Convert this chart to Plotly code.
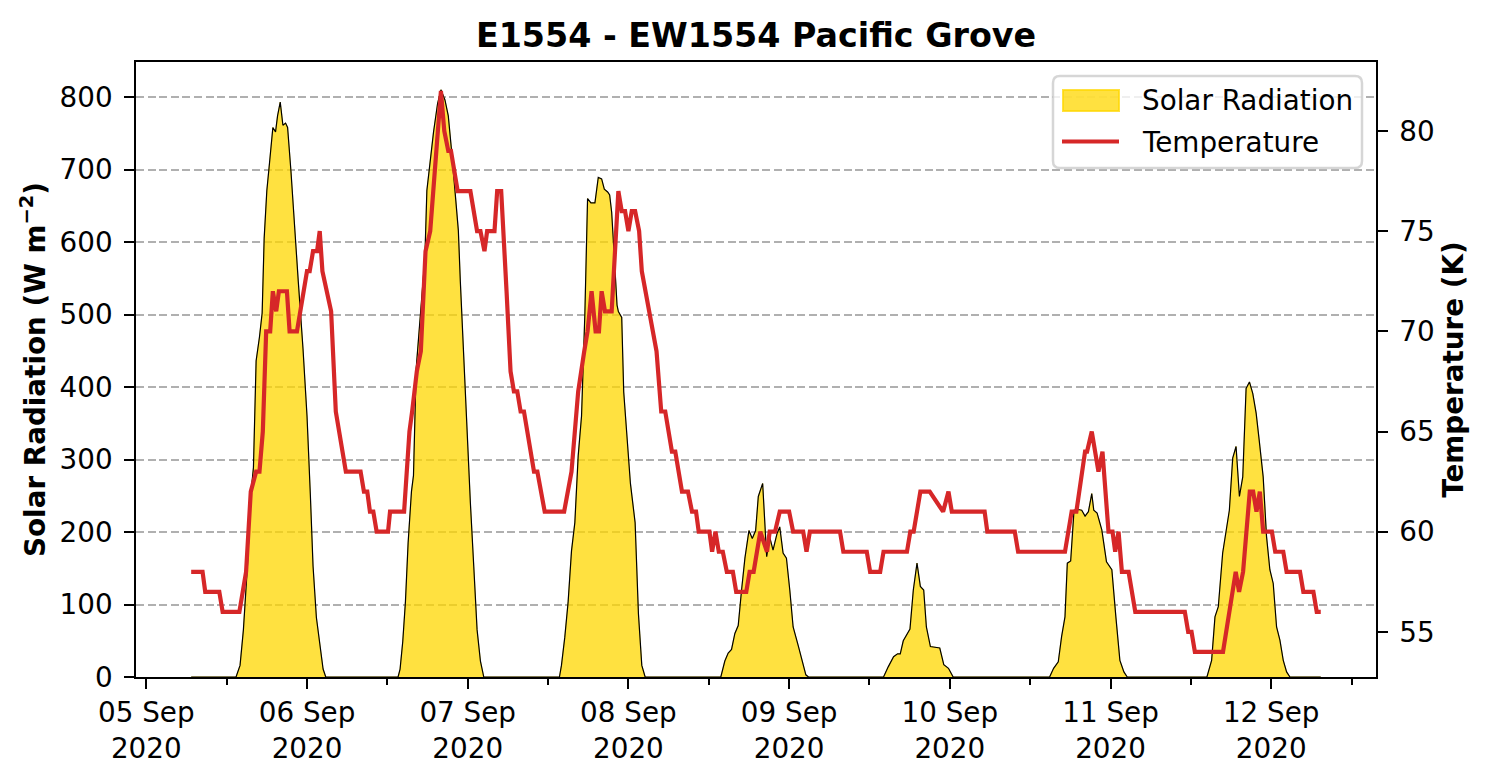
import pandas as pd
import plotly.graph_objects as go

# ---- data (hours since 2020-09-05 00:00 UTC) ----
solar_hours = [6.7,
    13.4, 14.0, 14.5, 15.1, 15.6, 16.0, 16.4, 16.9, 17.3, 17.6, 18.0, 18.4, 18.9, 19.3, 19.6, 20.0, 20.4, 20.8, 21.1,
    21.6, 22.1, 22.7, 23.4, 24.0, 24.5, 24.9, 25.4, 25.9, 26.4, 26.8,
    37.6, 37.9, 38.3, 38.7, 39.1, 39.6, 39.9, 40.3, 40.9, 41.6, 41.9, 42.4, 42.9, 43.5, 44.0, 44.6, 45.1, 45.6, 46.1,
    46.6, 46.9, 47.4, 47.9, 48.4, 48.9, 49.4, 49.9, 50.4,
    61.7, 62.0, 62.5, 63.0, 63.5, 64.0, 64.5, 65.0, 65.5, 65.9, 66.4, 67.0, 67.5, 68.0, 68.4, 68.9, 69.2, 69.5, 69.9,
    70.3, 70.5, 71.0, 71.3, 71.8, 72.3, 73.0, 73.5, 74.0, 74.5,
    85.8, 86.4, 86.9, 87.4, 87.9, 88.4, 88.9, 89.4, 90.0, 90.5, 91.0, 91.4, 92.05, 92.3, 92.65, 93.1, 93.6, 94.2, 94.6,
    95.1, 95.6, 96.1, 96.6, 97.4, 97.9, 98.5, 98.9,
    110.1, 110.8, 111.6, 112.2, 112.6, 113.05, 113.6, 114.05, 114.55, 115.1, 115.6, 116.1, 116.5, 117.1, 118.5, 119.1,
    119.8, 120.5,
    134.9, 135.5, 136.2, 136.7, 137.2, 137.55, 138.05, 138.55, 139.2, 139.7, 140.2, 140.7, 141.2, 141.5, 142.0, 142.7,
    143.4, 144.2, 144.8, 145.4, 146.0, 146.5,
    158.4, 159.1, 159.6, 160.1, 160.75, 161.35, 161.75, 162.25, 162.75, 163.25, 163.75, 164.25, 164.75, 165.25, 165.75,
    166.2, 166.8, 167.3, 167.8, 168.3, 168.8, 169.3, 169.8, 170.3, 170.8,
    175.4]
solar_values = [0,
    0, 16, 65, 153, 251, 289, 436, 469, 502, 605, 671, 709, 758, 752, 774, 793, 761, 764, 758,
    698, 622, 545, 453, 360, 251, 153, 82, 44, 11, 0,
    0, 11, 49, 104, 185, 256, 278, 425, 502, 578, 671, 714, 752, 791, 810, 796, 774, 725, 671,
    616, 545, 436, 338, 240, 153, 65, 22, 0,
    0, 16, 55, 104, 174, 213, 305, 360, 502, 660, 654, 654, 689, 687, 673, 669, 665, 641, 578,
    513, 504, 496, 393, 327, 267, 213, 87, 16, 0,
    0, 22, 33, 38, 60, 71, 120, 164, 202, 191, 202, 249, 267, 221, 166, 193, 175, 198, 207,
    171, 164, 120, 69, 42, 23, 3, 0,
    0, 14, 28, 32, 32, 50, 58, 66, 120, 157, 125, 120, 69, 42, 40, 17,
    12, 0,
    0, 12, 21, 56, 83, 157, 160, 230, 231, 230, 222, 228, 253, 230, 226, 203,
    159, 148, 83, 23, 7, 0,
    0, 23, 83, 97, 171, 207, 230, 302, 318, 249, 276, 398, 407, 391, 364,
    327, 276, 194, 148, 129, 69, 51, 23, 7, 0,
    0]

temp_hours = [6.7, 8.4, 8.8, 10.9, 11.4, 13.9, 14.9, 15.6, 16.4, 16.9, 17.4, 17.9, 18.5, 18.9, 19.4, 19.8, 21.0, 21.4,
    22.5, 23.4, 24.0, 24.4, 24.9, 25.5, 25.9, 26.3, 27.6, 28.3, 29.8, 32.0, 32.5, 33.0, 33.4, 33.9, 34.4, 36.1, 36.4,
    38.5, 39.3, 39.7, 40.4, 41.0, 41.7, 42.4, 43.1, 44.0, 44.5, 45.1, 45.5, 46.5, 48.4, 49.4, 49.9, 50.5, 50.9, 52.0,
    52.4, 53.0, 53.8, 54.4, 54.9, 55.4, 55.9, 56.4, 57.9, 58.4, 59.5, 62.4, 63.5, 64.5, 65.4, 65.9, 66.5, 67.1, 67.6,
    68.0, 68.5, 69.5, 70.5, 71.0, 71.5, 72.0, 72.5, 73.0, 73.6, 74.0, 76.2, 76.9, 77.5, 78.5, 79.0, 80.0, 80.9, 81.5,
    82.1, 82.5, 84.1, 84.5, 85.0, 85.5, 86.1, 86.7, 87.6, 88.1, 89.6, 90.1, 90.7, 91.7, 92.7, 93.1, 93.9, 94.6, 96.0,
    96.6, 98.1, 98.6, 99.1, 103.6, 104.1, 107.6, 108.1, 109.6, 110.1, 113.6, 114.1, 114.6, 115.6, 117.0, 119.0,
    119.8, 120.3, 125.2, 125.6, 129.7, 130.2, 137.2, 138.2, 138.9, 140.2, 140.5, 141.2, 142.2, 142.8, 143.7, 144.3,
    144.7, 145.2, 145.7, 146.7, 147.7, 155.1, 155.6, 156.1, 156.6, 160.8, 162.7, 163.2, 163.8, 164.8, 165.3, 165.8,
    166.3, 166.8, 168.1, 168.6, 169.8, 170.3, 172.3, 172.8, 174.3, 174.8, 175.4]
temp_values = [58, 58, 57, 57, 56, 56, 58, 62, 63, 63, 65, 70, 70, 72, 71, 72, 72, 70,
    70, 72, 73, 73, 74, 74, 75, 73, 71, 66, 63, 63, 62, 62, 61, 61, 60, 60, 61,
    61, 65, 66, 68, 69, 74, 75, 78, 82, 80, 79, 79, 77, 77, 75, 75, 74, 75, 75,
    77, 77, 72, 68, 67, 67, 66, 66, 63, 63, 61, 61, 63, 67, 69, 70, 72, 70, 70,
    72, 71, 71, 77, 76, 76, 75, 76, 76, 75, 73, 69, 66, 66, 64, 64, 62, 62, 61,
    61, 60, 60, 59, 60, 59, 59, 58, 58, 57, 57, 58, 58, 60, 59, 60, 60, 61, 61,
    60, 60, 59, 60, 60, 59, 59, 58, 58, 59, 59, 60, 60, 62, 62, 61,
    62, 61, 61, 60, 60, 59, 59, 61, 61, 64, 64, 65, 63, 64, 60, 60,
    59, 60, 58, 58, 56, 56, 55, 55, 54, 54, 58, 57, 58, 62, 62, 61,
    62, 60, 60, 59, 59, 58, 58, 57, 57, 56, 56]

day_ticks = ["2020-09-05", "2020-09-06", "2020-09-07", "2020-09-08",
             "2020-09-09", "2020-09-10", "2020-09-11", "2020-09-12"]
day_labels = ["05 Sep<br>2020", "06 Sep<br>2020", "07 Sep<br>2020", "08 Sep<br>2020",
              "09 Sep<br>2020", "10 Sep<br>2020", "11 Sep<br>2020", "12 Sep<br>2020"]
legend_labels = ["Solar Radiation", "Temperature"]

t0 = pd.Timestamp("2020-09-05 00:00")
solar_x = [t0 + pd.Timedelta(hours=h) for h in solar_hours]
temp_x = [t0 + pd.Timedelta(hours=h) for h in temp_hours]
noon_ticks = [pd.Timestamp(d) + pd.Timedelta(hours=12) for d in ["2020-09-04"] + day_ticks]

FONT = "DejaVu Sans"
FS = 27.8
SOLAR_FILL = "rgba(255,215,0,0.75)"
TEMP_COLOR = "#d62728"

# plot-area geometry (pixels) used to place the hand-drawn legend
L, R, T, B = 136, 1376, 62, 677
def px(xp):
    return (xp - L) / (R - L)
def py(yp):
    return (B - yp) / (B - T)

fig = go.Figure()
fig.add_trace(go.Scatter(
    x=solar_x, y=solar_values, name=legend_labels[0], mode="lines", showlegend=False,
    fill="tozeroy", fillcolor=SOLAR_FILL, line=dict(color=SOLAR_FILL, width=1)))
fig.add_trace(go.Scatter(
    x=solar_x, y=solar_values, mode="lines", showlegend=False,
    line=dict(color="black", width=1.2)))
fig.add_trace(go.Scatter(
    x=temp_x, y=temp_values, name=legend_labels[1], mode="lines", yaxis="y2", showlegend=False,
    line=dict(color=TEMP_COLOR, width=4.2)))

x_start = t0 + pd.Timedelta(hours=-1.54)
x_end = t0 + pd.Timedelta(hours=183.65)

# legend box (rounded) drawn as a path in paper coordinates
bx0, bx1, by0, by1, rr = 1053, 1362, 76, 168, 7
def P(xp, yp):
    return f"{px(xp):.5f},{py(yp):.5f}"
box_path = (f"M{P(bx0 + rr, by0)} L{P(bx1 - rr, by0)} Q{P(bx1, by0)} {P(bx1, by0 + rr)} "
            f"L{P(bx1, by1 - rr)} Q{P(bx1, by1)} {P(bx1 - rr, by1)} "
            f"L{P(bx0 + rr, by1)} Q{P(bx0, by1)} {P(bx0, by1 - rr)} "
            f"L{P(bx0, by0 + rr)} Q{P(bx0, by0)} {P(bx0 + rr, by0)} Z")

shapes = [
    dict(type="path", xref="paper", yref="paper", path=box_path,
         fillcolor="rgba(255,255,255,0.8)", line=dict(color="rgba(204,204,204,0.8)", width=2.5), layer="above"),
    dict(type="rect", xref="paper", yref="paper", x0=px(1063), x1=px(1119), y0=py(111), y1=py(90),
         fillcolor=SOLAR_FILL, line=dict(color=SOLAR_FILL, width=2), layer="above"),
    dict(type="line", xref="paper", yref="paper", x0=px(1062), x1=px(1119), y0=py(141.5), y1=py(141.5),
         line=dict(color=TEMP_COLOR, width=4.2), layer="above"),
]
annotations = [
    dict(text=legend_labels[0], xref="paper", yref="paper", x=px(1140), y=py(101),
         xanchor="left", yanchor="middle", showarrow=False, font=dict(size=FS, family=FONT, color="black")),
    dict(text=legend_labels[1], xref="paper", yref="paper", x=px(1140), y=py(142),
         xanchor="left", yanchor="middle", showarrow=False, font=dict(size=FS, family=FONT, color="black")),
]

fig.update_layout(
    width=1490, height=778, autosize=False,
    margin=dict(l=L, r=1490 - R, t=T, b=778 - B),
    paper_bgcolor="white", plot_bgcolor="white",
    font=dict(family=FONT, size=FS, color="black"),
    showlegend=False,
    shapes=shapes, annotations=annotations,
    title=dict(text="<b>E1554 - EW1554 Pacific Grove</b>", font=dict(size=33.3, family=FONT),
               x=0.5, xref="paper", xanchor="center", y=1 - 35 / 778, yref="container", yanchor="middle"),
    xaxis=dict(
        type="date", range=[x_start, x_end], automargin=False,
        tickmode="array", tickvals=day_ticks, ticktext=day_labels,
        ticks="outside", ticklen=9.7, tickwidth=2.2, tickcolor="black",
        showline=True, linecolor="black", linewidth=2.2, mirror=True,
        showgrid=False, zeroline=False,
        minor=dict(tickmode="array", tickvals=noon_ticks, ticks="outside",
                   ticklen=5.6, tickwidth=1.7, tickcolor="black", showgrid=False),
        ticklabelstandoff=0,
    ),
    yaxis=dict(
        range=[0, 848.3], tickmode="linear", tick0=0, dtick=100, automargin=False,
        ticks="outside", ticklen=9.7, tickwidth=2.2, tickcolor="black",
        showline=True, linecolor="black", linewidth=2.2,
        showgrid=True, gridcolor="#b0b0b0", gridwidth=2.2, griddash="8px,3.6px",
        zeroline=False,
        title=dict(text="<b>Solar Radiation (W m<sup>−2</sup>)</b>", standoff=6, font=dict(size=FS)),
        ticklabelstandoff=6,
    ),
    yaxis2=dict(
        overlaying="y", side="right", range=[52.75, 83.44], automargin=False,
        tickmode="linear", tick0=55, dtick=5,
        ticks="outside", ticklen=9.7, tickwidth=2.2, tickcolor="black",
        showline=True, linecolor="black", linewidth=2.2,
        showgrid=False, zeroline=False,
        title=dict(text="<b>Temperature (K)</b>", standoff=10, font=dict(size=FS)),
        ticklabelstandoff=6,
    ),
)

fig.write_html("out.html")
